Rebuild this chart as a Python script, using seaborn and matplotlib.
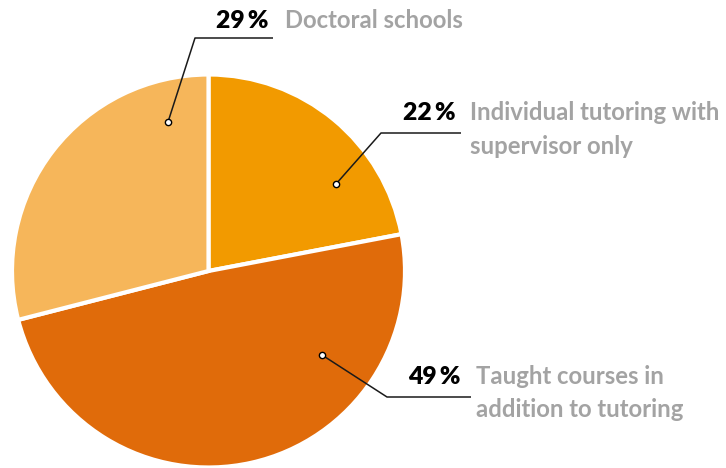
import matplotlib
matplotlib.use("Agg")
import matplotlib.pyplot as plt
import seaborn as sns

categories = [["Individual tutoring with", "supervisor only"],
              ["Taught courses in", "addition to tutoring"],
              ["Doctoral schools"]]
values = [22, 49, 29]
pct_labels = ["22\u2009%", "49\u2009%", "29\u2009%"]
colors = ["#F29A00", "#E06B0A", "#F6B65A"]

sns.set_theme(style="white")
plt.rcParams['font.family'] = ['Lato', 'DejaVu Sans']

W, H = 726, 468
fig = plt.figure(figsize=(W / 100, H / 100), dpi=100)
ax = fig.add_axes([0, 0, 1, 1])

cx, cy, r = 208.5, H - 271, 196.5
ax.pie(values, colors=colors, startangle=90, counterclock=False,
       center=(cx, cy), radius=r, frame=True,
       wedgeprops=dict(edgecolor='white', linewidth=3))
ax.set_xlim(0, W)
ax.set_ylim(0, H)
ax.set_aspect('equal')
ax.axis('off')

# leader geometry (pixels from top-left) and text baselines
leaders = [
    dict(dot=(336, 184), elbow=(381, 133), end=(461, 133), pct=(456, 120.5), txt=(470, 120.5)),
    dict(dot=(322, 355), elbow=(387, 397), end=(471, 397), pct=(461, 383.5), txt=(476, 383.5)),
    dict(dot=(168, 122), elbow=(195, 38), end=(273, 38), pct=(269, 27.5), txt=(285, 27.5)),
]

fs = 17.2
gap = 33.5
for i, L in enumerate(leaders):
    xs = [L['dot'][0], L['elbow'][0], L['end'][0]]
    ys = [H - L['dot'][1], H - L['elbow'][1], H - L['end'][1]]
    ax.plot(xs, ys, color='#1a1a1a', lw=1.1, solid_capstyle='butt', zorder=5)
    ax.plot([xs[0]], [ys[0]], marker='o', ms=4.5, mfc='white', mec='black', mew=1.0, zorder=6)
    ax.text(L['pct'][0], H - L['pct'][1], pct_labels[i], ha='right', va='baseline',
            fontsize=17.8, fontweight='heavy', color='black')
    for j, line in enumerate(categories[i]):
        ax.text(L['txt'][0], H - (L['txt'][1] + j * gap), line, ha='left', va='baseline',
                fontsize=fs, fontweight='bold', color='#A3A3A3')

fig.savefig("out.png", dpi=100)
